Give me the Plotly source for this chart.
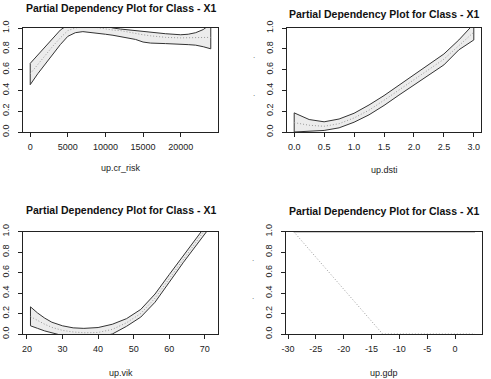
import plotly.graph_objects as go

W, H = 491, 379

TITLE = "Partial Dependency Plot for Class - X1"

# ---- Panel 1: up.cr_risk ----
cr_x = [0, 1000, 2000, 3000, 4000, 5000, 6000, 7000, 8000, 10000, 11000, 12000,
        14000, 15000, 16000, 18000, 20000, 21000, 22000, 23000, 24000]
cr_upper = [0.66, 0.74, 0.82, 0.90, 0.98, 1.03, 1.06, 1.07, 1.07, 1.02, 1.00, 0.99,
            0.975, 0.965, 0.955, 0.945, 0.935, 0.94, 0.955, 0.985, 1.04]
cr_lower = [0.455, 0.56, 0.65, 0.75, 0.84, 0.92, 0.955, 0.965, 0.96, 0.94, 0.93, 0.92,
            0.89, 0.865, 0.855, 0.85, 0.845, 0.84, 0.835, 0.82, 0.80]
cr_mid = [0.56, 0.65, 0.735, 0.825, 0.905, 0.975, 1.0, 1.015, 1.015, 0.99, 0.98, 0.975,
          0.945, 0.935, 0.925, 0.91, 0.905, 0.905, 0.905, 0.905, 0.91]
cr_ticks = [0, 5000, 10000, 15000, 20000]
cr_ticktext = ["0", "5000", "10000", "15000", "20000"]

# ---- Panel 2: up.dsti ----
dsti_x = [0, 0.25, 0.5, 0.75, 1.0, 1.25, 1.5, 1.75, 2.0, 2.25, 2.5, 2.75, 3.0]
dsti_upper = [0.184, 0.12, 0.098, 0.125, 0.18, 0.26, 0.35, 0.45, 0.55, 0.65, 0.75, 0.885, 1.04]
dsti_lower = [0.0, 0.005, 0.015, 0.04, 0.094, 0.165, 0.255, 0.355, 0.455, 0.55, 0.645, 0.79, 0.885]
dsti_mid = [0.09, 0.065, 0.055, 0.08, 0.135, 0.21, 0.305, 0.405, 0.505, 0.6, 0.7, 0.83, 0.96]
dsti_ticks = [0, 0.5, 1.0, 1.5, 2.0, 2.5, 3.0]
dsti_ticktext = ["0.0", "0.5", "1.0", "1.5", "2.0", "2.5", "3.0"]

# ---- Panel 3: up.vik ----
vik_x = [21, 23, 25, 27, 30, 33, 36, 40, 44, 48, 52, 56, 60, 64, 68, 71.6]
vik_upper = [0.265, 0.205, 0.155, 0.115, 0.08, 0.06, 0.055, 0.063, 0.095, 0.15, 0.24,
             0.39, 0.58, 0.77, 0.97, 1.12]
vik_lower = [0.08, 0.055, 0.03, 0.01, -0.015, -0.03, -0.035, -0.03, 0.0, 0.075, 0.165,
             0.31, 0.505, 0.70, 0.885, 1.05]
vik_mid = [0.17, 0.13, 0.095, 0.065, 0.035, 0.02, 0.012, 0.015, 0.045, 0.11, 0.2,
           0.35, 0.54, 0.735, 0.93, 1.09]
vik_ticks = [20, 30, 40, 50, 60, 70]
vik_ticktext = ["20", "30", "40", "50", "60", "70"]

# ---- Panel 4: up.gdp ----
gdp_x = [-29, -13, 3.6]
gdp_mid = [1.0, 0.0, 0.0]
gdp_upper = [1.0, 1.0, 1.0]
gdp_ticks = [-30, -25, -20, -15, -10, -5, 0]
gdp_ticktext = ["-30", "-25", "-20", "-15", "-10", "-5", "0"]

y_ticks = [0, 0.2, 0.4, 0.6, 0.8, 1.0]
y_ticktext = ["0.0", "0.2", "0.4", "0.6", "0.8", "1.0"]

FONT = "Liberation Sans, Arial, Helvetica, sans-serif"
LINE = "#222222"


def fx(px):
    return px / W


def fy(py):
    return 1 - py / H


panels = [
    dict(xd=(23, 218), yd=(28, 132), xr=(-960, 24960), tv=cr_ticks, tt=cr_ticktext,
         xlab="up.cr_risk", ty=8, ly=168),
    dict(xd=(287, 481), yd=(28, 132), xr=(-0.12, 3.12), tv=dsti_ticks, tt=dsti_ticktext,
         xlab="up.dsti", ty=14, ly=170),
    dict(xd=(23, 218), yd=(231.5, 334), xr=(18.9, 73.7), tv=vik_ticks, tt=vik_ticktext,
         xlab="up.vik", ty=210, ly=373),
    dict(xd=(286, 482), yd=(231.5, 334), xr=(-30.36, 4.85), tv=gdp_ticks, tt=gdp_ticktext,
         xlab="up.gdp", ty=211, ly=373),
]

fig = go.Figure()

bands = [
    (cr_x, cr_upper, cr_lower, cr_mid),
    (dsti_x, dsti_upper, dsti_lower, dsti_mid),
    (vik_x, vik_upper, vik_lower, vik_mid),
]

for i, (xs, up, lo, mid) in enumerate(bands):
    n = i + 1
    xa = "x" if n == 1 else f"x{n}"
    ya = "y" if n == 1 else f"y{n}"
    fig.add_trace(go.Scatter(
        x=list(xs) + list(xs[::-1]) + [xs[0]],
        y=list(up) + list(lo[::-1]) + [up[0]],
        mode="lines", fill="toself", fillcolor="#ececec",
        line=dict(color="#333333", width=1), xaxis=xa, yaxis=ya,
        hoverinfo="skip", showlegend=False))
    fig.add_trace(go.Scatter(
        x=xs, y=mid, mode="lines",
        line=dict(color="#999999", width=1, dash="1px,2px"),
        xaxis=xa, yaxis=ya, showlegend=False))

fig.add_trace(go.Scatter(x=gdp_x, y=gdp_upper, mode="lines",
                         line=dict(color="#333333", width=1.5),
                         xaxis="x4", yaxis="y4", showlegend=False))
fig.add_trace(go.Scatter(x=gdp_x, y=gdp_mid, mode="lines",
                         line=dict(color="#999999", width=1, dash="1px,2px"),
                         xaxis="x4", yaxis="y4", showlegend=False))

layout = dict(
    width=W, height=H, autosize=False,
    margin=dict(l=0, r=0, t=0, b=0),
    paper_bgcolor="white", plot_bgcolor="white",
    template="none", showlegend=False,
    font=dict(family=FONT, size=9, color="#222222"),
)

annotations = []
for i, p in enumerate(panels):
    n = i + 1
    xk = "xaxis" if n == 1 else f"xaxis{n}"
    yk = "yaxis" if n == 1 else f"yaxis{n}"
    common = dict(showline=True, mirror=True, linecolor=LINE, linewidth=1,
                  ticks="outside", ticklen=4, tickcolor=LINE, tickwidth=1,
                  showgrid=False, zeroline=False,
                  tickfont=dict(family=FONT, size=9, color="#222222"))
    layout[xk] = dict(domain=[fx(p["xd"][0]), fx(p["xd"][1])], range=list(p["xr"]),
                      anchor="y" if n == 1 else f"y{n}",
                      tickmode="array", tickvals=p["tv"], ticktext=p["tt"],
                      ticklabelstandoff=2, **common)
    layout[yk] = dict(domain=[fy(p["yd"][1]), fy(p["yd"][0])], range=[0, 1],
                      anchor="x" if n == 1 else f"x{n}",
                      tickmode="array", tickvals=y_ticks, ticktext=y_ticktext,
                      tickangle=-90, ticklabelstandoff=5, **common)
    cx = (p["xd"][0] + p["xd"][1]) / 2
    annotations.append(dict(text="<b>" + TITLE + "</b>", x=fx(cx), y=fy(p["ty"]),
                            xref="paper", yref="paper", showarrow=False,
                            xanchor="center", yanchor="middle",
                            font=dict(family=FONT, size=10.5, color="#111111")))
    annotations.append(dict(text=p["xlab"], x=fx(cx), y=fy(p["ly"]),
                            xref="paper", yref="paper", showarrow=False,
                            xanchor="center", yanchor="middle",
                            font=dict(family=FONT, size=9, color="#222222")))

# small stray y-label marks on the right-column panels
for (dx, dy) in [(254, 62), (254, 100), (253, 265), (253, 303)]:
    annotations.append(dict(text=".", x=fx(dx), y=fy(dy), xref="paper", yref="paper",
                            showarrow=False, xanchor="center", yanchor="bottom",
                            font=dict(family=FONT, size=8, color="#555555")))

layout["annotations"] = annotations
fig.update_layout(**layout)
fig.write_html("out.html", config={"displayModeBar": False},
               post_script="document.body.style.margin='0';document.body.style.padding='0';")
